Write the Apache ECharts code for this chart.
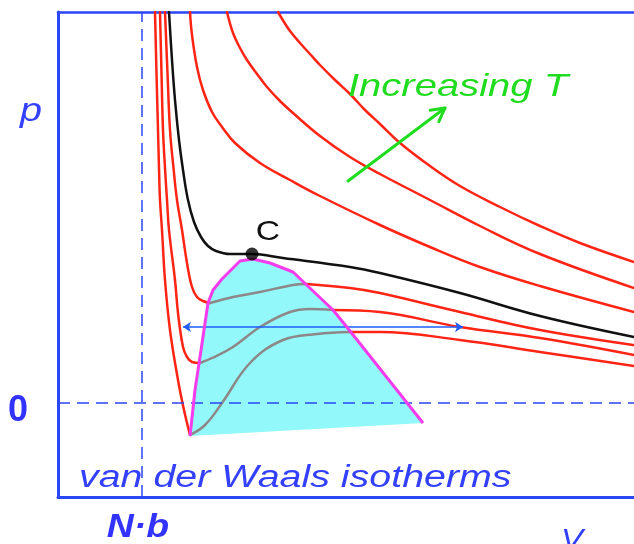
<!DOCTYPE html>
<html>
<head>
<meta charset="utf-8">
<script src="https://cdn.jsdelivr.net/npm/echarts@6/dist/echarts.min.js"></script>
<style>
  html, body { margin: 0; padding: 0; background: #fff; }
  #chart { width: 634px; height: 544px; }
</style>
</head>
<body>
<div id="chart"></div>
<script>
// Axis ranges (arbitrary units): V along x, p along y, p = 0 is the dashed baseline
const vMin = 0, vMax = 57.6;
const pMin = -9.4, pMax = 39.1;
const excludedVolume = 8.4;          // N·b

// Three subcritical isotherms: liquid branch, loop inside the two-phase region, gas branch
const t1Liquid = [[10.7,39.1],[10.95,33.0],[11.2,27.3],[11.55,23.5],[11.9,20.3],[12.4,17.3],[12.9,14.0],[13.4,11.6],[13.9,10.6],[14.5,10.2],[15.2,10.0]];
const t1Loop   = [[15.2,10.0],[17.5,10.6],[20.2,11.1],[23.5,11.8],[24.8,11.9]];
const t1Gas    = [[24.8,11.9],[29.2,11.5],[32.2,11.0],[40.2,9.1],[48.2,7.3],[57.6,5.8]];

const t2Liquid = [[10.2,39.1],[10.35,33.0],[10.5,27.3],[10.7,23.5],[10.9,20.3],[11.1,17.3],[11.7,12.3],[12.0,9.0],[12.5,5.6],[12.9,4.6],[13.4,4.1],[14.2,4.0]];
const t2Loop   = [[14.2,4.0],[15.4,4.5],[17.5,5.6],[20.2,7.6],[23.2,9.1],[25.2,9.4],[27.5,9.3]];
const t2Gas    = [[27.5,9.3],[32.2,9.1],[40.2,7.6],[48.2,6.5],[57.6,4.8]];

const t3Liquid = [[9.7,39.1],[9.85,33.0],[10.0,27.3],[10.1,23.5],[10.2,20.3],[10.4,17.3],[10.7,12.3],[11.2,7.3],[12.0,2.3],[12.6,-0.7],[13.2,-3.2]];
const t3Loop   = [[13.2,-3.2],[14.7,-2.2],[16.4,0.0],[19.2,4.0],[22.5,6.3],[25.9,6.9],[29.2,7.1]];
const t3Gas    = [[29.2,7.1],[32.2,7.1],[40.2,6.3],[48.2,5.1],[57.6,3.7]];

// Critical isotherm and critical point C
const tCritical = [[11.1,39.1],[11.4,34.3],[11.7,30.3],[12.1,26.3],[12.5,23.3],[13.0,20.3],[13.6,18.1],[14.3,16.6],[15.0,15.7],[15.8,15.2],[17.2,14.9],[19.4,14.9],[22.5,14.5],[29.2,13.6],[32.2,13.0],[40.2,11.0],[48.2,8.7],[57.6,6.6]];
const criticalPoint = [19.4, 14.9];

// Supercritical isotherms
const t4 = [[13.2,39.1],[13.4,36.8],[13.9,33.6],[14.5,31.3],[15.4,29.1],[16.4,27.6],[17.7,26.0],[20.2,24.0],[23.2,22.3],[26.2,20.7],[32.2,17.8],[37.2,15.6],[42.2,13.6],[48.2,11.7],[57.6,9.1]];
const t5 = [[16.9,39.1],[17.5,37.0],[18.2,35.5],[18.9,34.3],[19.9,32.9],[20.9,31.6],[22.2,30.2],[23.5,29.0],[26.2,26.7],[29.2,24.6],[32.2,22.9],[37.2,20.3],[42.2,17.7],[48.2,14.9],[57.6,11.5]];
const t6 = [[22.0,39.1],[22.6,38.1],[23.2,37.2],[24.2,36.0],[25.2,34.9],[26.2,33.8],[27.7,32.3],[29.2,30.9],[30.7,29.3],[32.2,27.9],[34.2,26.0],[37.2,23.7],[40.2,21.7],[44.2,19.6],[48.2,17.7],[52.2,16.0],[57.6,14.1]];

// Boundary of the two-phase (coexistence) region
const coexistence = [[13.2,-3.3],[13.7,1.3],[14.2,4.6],[15.0,10.0],[15.5,11.3],[16.4,12.4],[18.2,14.2],[19.5,14.4],[21.2,14.0],[23.5,13.1],[27.5,9.3],[29.2,7.2],[36.5,-2.0]];

// Tie line across the region and the "increasing T" arrow
const tieLine = [[12.5,7.6],[40.5,7.6]];
const tempArrow = [29.0, 22.2, 38.7, 29.5];

const RED = '#ff2414', GREY = '#8e8787', BLUE = '#2a46f5', TEXT_BLUE = '#3340ff';

function curve(data, color, z) {
  return {
    type: 'line', data: data, smooth: 0.4, showSymbol: false, silent: true, z: z || 3,
    lineStyle: { color: color, width: 2.5, cap: 'round', join: 'round' }
  };
}

const chart = echarts.init(document.getElementById('chart'), null, { renderer: 'canvas' });

const axisCommon = {
  type: 'value', min: vMin, max: vMax,
  axisTick: { show: false }, axisLabel: { show: false }, splitLine: { show: false }
};

chart.setOption({
  animation: false,
  grid: { left: 58, top: 12, right: 0, bottom: 47 },
  xAxis: [
    Object.assign({}, axisCommon, { position: 'bottom',
      axisLine: { show: true, onZero: false, lineStyle: { color: BLUE, width: 3 } } }),
    Object.assign({}, axisCommon, { position: 'top',
      axisLine: { show: true, onZero: false, lineStyle: { color: BLUE, width: 2.5 } } })
  ],
  yAxis: {
    type: 'value', min: pMin, max: pMax,
    axisLine: { show: true, onZero: false, lineStyle: { color: BLUE, width: 3 } },
    axisTick: { show: false }, axisLabel: { show: false }, splitLine: { show: false }
  },
  series: [
    // shaded two-phase region
    {
      type: 'custom', silent: true, z: 1,
      data: [coexistence[0]],
      renderItem: function (params, api) {
        const pts = coexistence.map(function (d) { return api.coord(d); });
        return { type: 'polygon', shape: { points: pts }, style: { fill: '#92f8fa' } };
      }
    },
    // dashed reference lines: V = N·b and p = 0
    {
      type: 'line', data: [], silent: true, z: 2,
      markLine: {
        silent: true, symbol: ['none', 'none'], label: { show: false },
        lineStyle: { color: BLUE, width: 1.5, type: [12, 7] },
        data: [{ xAxis: excludedVolume }, { yAxis: 0 }]
      }
    },
    curve(t6, RED), curve(t5, RED), curve(t4, RED),
    curve(tCritical, '#111111', 4),
    curve(t1Liquid, RED), curve(t1Loop, GREY), curve(t1Gas, RED),
    curve(t2Liquid, RED), curve(t2Loop, GREY), curve(t2Gas, RED),
    curve(t3Liquid, RED), curve(t3Loop, GREY), curve(t3Gas, RED),
    // tie line with arrows at both ends
    {
      type: 'lines', coordinateSystem: 'cartesian2d', silent: true, z: 5,
      symbol: ['arrow', 'arrow'], symbolSize: 8,
      lineStyle: { color: '#1f5dff', width: 1.5, opacity: 1 },
      data: [{ coords: tieLine }]
    },
    // coexistence boundary
    {
      type: 'line', data: coexistence, showSymbol: false, silent: true, z: 6,
      lineStyle: { color: '#f43cec', width: 3, join: 'round' }
    },
    // critical point
    {
      type: 'scatter', data: [criticalPoint], symbolSize: 13, silent: true, z: 7,
      itemStyle: { color: '#000' }
    },
    // increasing-temperature arrow
    {
      type: 'custom', silent: true, z: 7,
      data: [tempArrow],
      encode: { x: [0, 2], y: [1, 3] },
      renderItem: function (params, api) {
        const a = api.coord([api.value(0), api.value(1)]);
        const b = api.coord([api.value(2), api.value(3)]);
        const ang = Math.atan2(b[1] - a[1], b[0] - a[0]);
        const len = 15, spread = 0.5;
        const h1 = [b[0] - len * Math.cos(ang - spread), b[1] - len * Math.sin(ang - spread)];
        const h2 = [b[0] - len * Math.cos(ang + spread), b[1] - len * Math.sin(ang + spread)];
        const st = { stroke: '#1fdc1f', lineWidth: 3, fill: null, lineCap: 'round', lineJoin: 'round' };
        return {
          type: 'group',
          children: [
            { type: 'line', shape: { x1: a[0], y1: a[1], x2: b[0], y2: b[1] }, style: st },
            { type: 'polyline', shape: { points: [h1, b, h2] }, style: st }
          ]
        };
      }
    }
  ],
  graphic: [
    { type: 'text', x: 31, y: 112, scaleX: 1.2, silent: true, z: 10,
      style: { text: 'p', fill: TEXT_BLUE, font: 'italic 33px "Liberation Sans"',
               textAlign: 'center', align: 'center', textVerticalAlign: 'middle', verticalAlign: 'middle' } },
    { type: 'text', x: 18, y: 411, scaleX: 1.0, silent: true, z: 10,
      style: { text: '0', fill: '#3333ff', font: 'bold 36px "Liberation Sans"',
               textAlign: 'center', align: 'center', textVerticalAlign: 'middle', verticalAlign: 'middle' } },
    { type: 'text', x: 138, y: 528, scaleX: 1.1, silent: true, z: 10,
      style: { text: 'N·b', fill: '#3333ff', font: 'italic bold 34px "Liberation Sans"',
               textAlign: 'center', align: 'center', textVerticalAlign: 'middle', verticalAlign: 'middle' } },
    { type: 'text', x: 572, y: 541, scaleX: 1.1, silent: true, z: 10,
      style: { text: 'V', fill: TEXT_BLUE, font: 'italic 30px "Liberation Sans"',
               textAlign: 'center', align: 'center', textVerticalAlign: 'middle', verticalAlign: 'middle' } },
    { type: 'text', x: 348, y: 87, scaleX: 1.25, silent: true, z: 10,
      style: { text: 'Increasing T', fill: '#1fdc1f', font: 'italic 32px "Liberation Sans"',
               textAlign: 'left', align: 'left', textVerticalAlign: 'middle', verticalAlign: 'middle' } },
    { type: 'text', x: 79, y: 478, scaleX: 1.27, silent: true, z: 10,
      style: { text: 'van der Waals isotherms', fill: TEXT_BLUE, font: 'italic 31px "Liberation Sans"',
               textAlign: 'left', align: 'left', textVerticalAlign: 'middle', verticalAlign: 'middle' } },
    { type: 'text', x: 268, y: 232, scaleX: 1.2, silent: true, z: 10,
      style: { text: 'C', fill: '#111', font: '28px "Liberation Sans"',
               textAlign: 'center', align: 'center', textVerticalAlign: 'middle', verticalAlign: 'middle' } }
  ]
});
</script>
</body>
</html>
